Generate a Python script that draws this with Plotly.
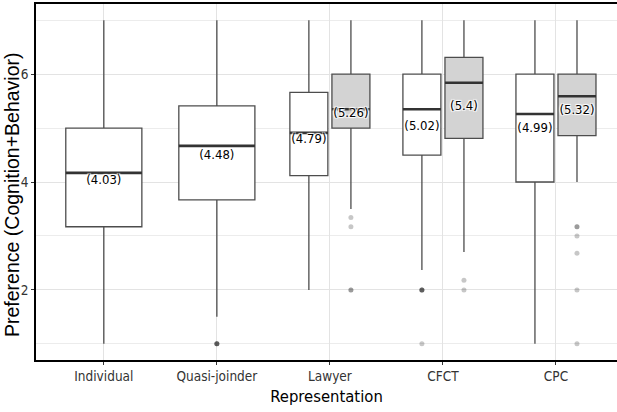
import plotly.graph_objects as go

# ---------------- data ----------------
categories = ["Individual", "Quasi-joinder", "Lawyer", "CFCT", "CPC"]

# single (undodged) boxes
single_cats = ["Individual", "Quasi-joinder"]
single_lower = [1.0, 1.5]
single_q1 = [3.17, 3.67]
single_median = [4.17, 4.67]
single_q3 = [5.0, 5.41]
single_upper = [7.0, 7.0]
single_mean = [4.03, 4.48]
single_out_cats = ["Quasi-joinder"] * 4
single_out_vals = [1.0, 1.0, 1.0, 1.0]

# dodged white boxes
white_cats = ["Lawyer", "CFCT", "CPC"]
white_lower = [2.0, 2.37, 1.0]
white_q1 = [4.12, 4.5, 4.0]
white_median = [4.91, 5.35, 5.26]
white_q3 = [5.66, 6.0, 6.0]
white_upper = [7.0, 7.0, 7.0]
white_mean = [4.79, 5.02, 4.99]
white_out_cats = ["CFCT", "CFCT", "CFCT", "CFCT", "CFCT"]
white_out_vals = [2.0, 2.0, 2.0, 2.0, 1.0]

# dodged grey boxes
grey_cats = ["Lawyer", "CFCT", "CPC"]
grey_lower = [3.5, 2.7, 4.0]
grey_q1 = [5.0, 4.81, 4.86]
grey_median = [5.35, 5.84, 5.59]
grey_q3 = [6.0, 6.31, 6.0]
grey_upper = [7.0, 7.0, 7.0]
grey_mean = [5.26, 5.4, 5.32]
grey_out_cats = ["Lawyer", "Lawyer", "Lawyer", "Lawyer",
                 "CFCT", "CFCT",
                 "CPC", "CPC", "CPC", "CPC", "CPC", "CPC"]
grey_out_vals = [3.34, 3.17, 2.0, 2.0,
                 2.18, 2.0,
                 3.17, 3.17, 3.0, 2.68, 2.0, 1.0]

y_major = [2, 4, 6]
y_minor = [1, 3, 5, 7]

# ---------------- styling ----------------
NARROW = "DejaVu Sans Condensed, Liberation Sans Narrow, sans-serif"
WIDE = "Liberation Sans, Arial, sans-serif"
BOX_LINE = "#4d4d4d"
MED_LINE = "#333333"
DODGE = 0.186
W_SINGLE = 0.673
W_DODGE = 0.336


def pos(cats, offset):
    return [categories.index(c) + offset for c in cats]


fig = go.Figure()


def add_group(cats, lower, q1, med, q3, upper, mean, out_c, out_v, offset, width, fill):
    x = pos(cats, offset)
    fig.add_trace(go.Box(
        x=x, lowerfence=lower, q1=q1, median=med, q3=q3, upperfence=upper,
        width=width, fillcolor=fill, line=dict(color=BOX_LINE, width=1.3),
        whiskerwidth=0, boxpoints=False, showlegend=False, hoverinfo="skip",
    ))
    # thick median line
    fig.add_trace(go.Box(
        x=x, lowerfence=med, q1=med, median=med, q3=med, upperfence=med,
        width=width, fillcolor="rgba(0,0,0,0)", line=dict(color=MED_LINE, width=2.6),
        whiskerwidth=0, boxpoints=False, showlegend=False, hoverinfo="skip",
    ))
    # outliers
    fig.add_trace(go.Scatter(
        x=pos(out_c, offset), y=out_v, mode="markers",
        marker=dict(size=5, color="rgba(0,0,0,0.22)", line=dict(width=0)),
        showlegend=False, hoverinfo="skip",
    ))
    # mean labels
    fig.add_trace(go.Scatter(
        x=x, y=mean, mode="text", text=[f"({m:g})" for m in mean],
        textposition="middle center",
        textfont=dict(family=NARROW, size=13, color="#000000",
                      shadow="1px 1px 1px #fff, -1px -1px 1px #fff, 1px -1px 1px #fff, -1px 1px 1px #fff"),
        showlegend=False, hoverinfo="skip",
    ))


add_group(single_cats, single_lower, single_q1, single_median, single_q3, single_upper,
          single_mean, single_out_cats, single_out_vals, 0.0, W_SINGLE, "#ffffff")
add_group(white_cats, white_lower, white_q1, white_median, white_q3, white_upper,
          white_mean, white_out_cats, white_out_vals, -DODGE, W_DODGE, "#ffffff")
add_group(grey_cats, grey_lower, grey_q1, grey_median, grey_q3, grey_upper,
          grey_mean, grey_out_cats, grey_out_vals, DODGE, W_DODGE, "#d3d3d3")

GRID = "#e3e3e3"
fig.update_layout(
    width=617, height=412,
    margin=dict(l=36, r=0, t=4, b=52),
    plot_bgcolor="#ffffff", paper_bgcolor="#ffffff",
    showlegend=False,
    xaxis=dict(
        range=[-0.6, 4.54], tickmode="array",
        tickvals=list(range(len(categories))), ticktext=categories,
        showgrid=True, gridcolor=GRID, gridwidth=1.2, zeroline=False,
        showline=True, linecolor="#000000", linewidth=1.5, mirror=True,
        ticks="outside", ticklen=3, tickcolor="#333333",
        tickfont=dict(family=NARROW, size=13.5, color="#333333"),
        title=dict(text="Representation", font=dict(family=NARROW, size=16.5, color="#000000"), standoff=7),
        automargin=False,
    ),
    yaxis=dict(
        range=[0.7, 7.3], tickmode="array", tickvals=y_major,
        showgrid=True, gridcolor=GRID, gridwidth=1.2, zeroline=False,
        minor=dict(tickmode="array", tickvals=y_minor, showgrid=True, gridcolor="#ececec", gridwidth=0.8, ticks=""),
        showline=True, linecolor="#000000", linewidth=1.5,
        ticks="outside", ticklen=3, tickcolor="#333333",
        tickfont=dict(family=NARROW, size=13.5, color="#333333"),
        automargin=False,
    ),
    annotations=[dict(
        text="Preference (Cognition+Behavior)", textangle=-90,
        xref="paper", yref="paper", x=0, y=0.4635, xanchor="right", yanchor="middle",
        xshift=-12, showarrow=False, borderpad=0,
        font=dict(family=WIDE, size=19.5, color="#000000"),
    )],
)

fig.write_html("out.html", config={"displayModeBar": False},
               post_script="document.body.style.margin='0px';")
